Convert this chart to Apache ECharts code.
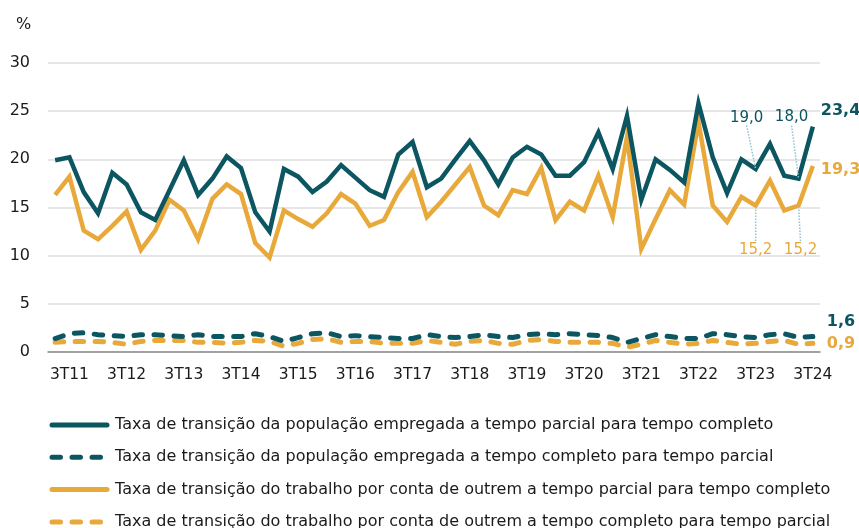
<!DOCTYPE html>
<html>
<head>
<meta charset="utf-8">
<script src="https://cdn.jsdelivr.net/npm/echarts@6/dist/echarts.min.js"></script>
<style>
  html, body { margin: 0; padding: 0; background: #fff; }
  #main { width: 859px; height: 528px; }
</style>
</head>
<body>
<div id="main"></div>
<script>
// quarters 2T11 .. 3T24
var quarters = [
  '2T11', '3T11', '4T11',
  '1T12', '2T12', '3T12', '4T12',
  '1T13', '2T13', '3T13', '4T13',
  '1T14', '2T14', '3T14', '4T14',
  '1T15', '2T15', '3T15', '4T15',
  '1T16', '2T16', '3T16', '4T16',
  '1T17', '2T17', '3T17', '4T17',
  '1T18', '2T18', '3T18', '4T18',
  '1T19', '2T19', '3T19', '4T19',
  '1T20', '2T20', '3T20', '4T20',
  '1T21', '2T21', '3T21', '4T21',
  '1T22', '2T22', '3T22', '4T22',
  '1T23', '2T23', '3T23', '4T23',
  '1T24', '2T24', '3T24'
];

// populacao empregada: parcial -> completo
var empParcialCompleto = [
  19.9, 20.2, 16.6,
  14.4, 18.6, 17.4, 14.5,
  13.7, 16.8, 19.9, 16.3,
  18.0, 20.3, 19.1, 14.5,
  12.5, 19.0, 18.2, 16.6,
  17.7, 19.4, 18.1, 16.8,
  16.1, 20.5, 21.8, 17.1,
  18.0, 20.0, 21.9, 19.9,
  17.4, 20.2, 21.3, 20.5,
  18.3, 18.3, 19.7, 22.8,
  19.0, 24.5, 15.8, 20.0,
  18.9, 17.6, 25.8, 20.2,
  16.5, 20.0, 19.0, 21.6,
  18.3, 18.0, 23.4
];

// populacao empregada: completo -> parcial
var empCompletoParcial = [
  1.4, 1.9, 2.0,
  1.8, 1.7, 1.6, 1.8,
  1.8, 1.7, 1.6, 1.8,
  1.6, 1.6, 1.6, 1.9,
  1.6, 1.1, 1.5, 1.9,
  2.0, 1.6, 1.7, 1.6,
  1.5, 1.4, 1.4, 1.8,
  1.6, 1.5, 1.6, 1.8,
  1.6, 1.5, 1.8, 1.9,
  1.8, 1.9, 1.8, 1.7,
  1.5, 1.0, 1.4, 1.8,
  1.6, 1.4, 1.4, 1.9,
  1.8, 1.6, 1.5, 1.8,
  1.9, 1.5, 1.6
];

// trabalho por conta de outrem: parcial -> completo
var tcoParcialCompleto = [
  16.3, 18.2, 12.6,
  11.7, 13.1, 14.6, 10.6,
  12.6, 15.8, 14.7, 11.7,
  15.9, 17.4, 16.4, 11.3,
  9.8, 14.7, 13.8, 13.0,
  14.4, 16.4, 15.4, 13.1,
  13.7, 16.6, 18.7, 14.0,
  15.6, 17.4, 19.2, 15.2,
  14.2, 16.8, 16.4, 19.1,
  13.7, 15.6, 14.7, 18.3,
  14.0, 22.3, 10.7, 13.8,
  16.8, 15.3, 23.9, 15.2,
  13.5, 16.1, 15.2, 17.8,
  14.7, 15.2, 19.3
];

// trabalho por conta de outrem: completo -> parcial
var tcoCompletoParcial = [
  1.0, 1.1, 1.1,
  1.1, 1.0, 0.8, 1.1,
  1.2, 1.2, 1.2, 1.0,
  1.0, 0.9, 1.0, 1.2,
  1.1, 0.6, 0.9, 1.3,
  1.4, 1.0, 1.1, 1.1,
  0.9, 0.9, 0.9, 1.2,
  1.0, 0.8, 1.1, 1.2,
  0.9, 0.8, 1.2, 1.3,
  1.1, 1.0, 1.0, 1.0,
  0.9, 0.5, 0.8, 1.2,
  1.0, 0.8, 0.9, 1.2,
  1.0, 0.8, 0.9, 1.1,
  1.2, 0.8, 0.9
];

var seriesNames = [
  'Taxa de transição da população empregada a tempo parcial para tempo completo',
  'Taxa de transição da população empregada a tempo completo para tempo parcial',
  'Taxa de transição do trabalho por conta de outrem a tempo parcial para tempo completo',
  'Taxa de transição do trabalho por conta de outrem a tempo completo para tempo parcial'
];

var yTicks = [0, 5, 10, 15, 20, 25, 30];

// annotated points (index -> text)
var tealNotes = { 49: '19,0', 52: '18,0' };
var goldNotes = { 49: '15,2', 52: '15,2' };

var TEAL = '#0b5661';
var GOLD = '#e8a93a';
var FONT = 'DejaVu Sans';

function fmt(v) {
  return v.toFixed(1).replace('.', ',');
}

// turn a value array into data items, flagging the annotated ones
function withNotes(values, notes, color) {
  return values.map(function (v, i) {
    if (!notes[i]) return v;
    return {
      value: v,
      symbol: 'circle',
      symbolSize: 2,
      itemStyle: { color: color },
      label: {
        show: true,
        position: 'inside',
        formatter: notes[i],
        color: color,
        fontFamily: FONT,
        fontSize: 15
      },
      labelLine: {
        show: true,
        lineStyle: { color: '#8cc3d6', width: 1.5, type: 'dotted' }
      }
    };
  });
}

function endLabel(color, dx, dy) {
  return {
    show: true,
    formatter: function (p) { return fmt(p.value); },
    color: color,
    fontFamily: FONT,
    fontWeight: 'bold',
    fontSize: 16,
    offset: [dx, dy]
  };
}

var dash = [8.5, 11.5];

var option = {
  animation: false,
  textStyle: { fontFamily: FONT },
  title: {
    text: '%',
    left: 11,
    top: 12,
    textStyle: { fontFamily: FONT, fontSize: 16, fontWeight: 'normal', color: '#1a1a1a' }
  },
  grid: { left: 48, right: 39, top: 63, bottom: 176, containLabel: false },
  legend: {
    orient: 'vertical',
    left: 49.5,
    top: 417,
    height: 140,
    padding: 0,
    itemWidth: 55,
    itemHeight: 14,
    itemGap: 16.3,
    itemStyle: { opacity: 0 },
    lineStyle: { width: 5, cap: 'round' },
    textStyle: { fontFamily: FONT, fontSize: 16, lineHeight: 16, color: '#1a1a1a', padding: [0, 0, 0, 3] },
    data: seriesNames
  },
  xAxis: {
    type: 'category',
    data: quarters,
    boundaryGap: true,
    axisLine: { lineStyle: { color: '#8a8a8a', width: 1.5 } },
    axisTick: { interval: 0, length: 5, lineStyle: { color: '#8a8a8a' } },
    axisLabel: {
      interval: function (idx) { return idx % 4 === 1; },
      margin: 15,
      fontFamily: FONT,
      fontSize: 15.5,
      color: '#1a1a1a'
    },
    splitLine: { show: false }
  },
  yAxis: {
    type: 'value',
    min: yTicks[0],
    max: yTicks[yTicks.length - 1],
    interval: 5,
    axisLine: { show: false },
    axisTick: { show: false },
    axisLabel: { margin: 18, fontFamily: FONT, fontSize: 16, color: '#1a1a1a' },
    splitLine: { lineStyle: { color: '#dedede', width: 1.5 } }
  },
  series: [
    {
      name: seriesNames[0],
      type: 'line',
      data: withNotes(empParcialCompleto, tealNotes, TEAL),
      symbol: 'none',
      showAllSymbol: true,
      color: TEAL,
      lineStyle: { color: TEAL, width: 4.5, join: 'miter' },
      labelLayout: function (p) {
        if (p.dataIndex === 49) return { dx: -9, dy: -51 };
        if (p.dataIndex === 52) return { dx: -7, dy: -61 };
        return {};
      },
      endLabel: endLabel(TEAL, 0, -16),
      z: 4
    },
    {
      name: seriesNames[1],
      type: 'line',
      data: empCompletoParcial,
      symbol: 'none',
      color: TEAL,
      lineStyle: { color: TEAL, width: 5, type: dash, cap: 'round' },
      endLabel: endLabel(TEAL, 6, -15),
      z: 3
    },
    {
      name: seriesNames[2],
      type: 'line',
      data: withNotes(tcoParcialCompleto, goldNotes, GOLD),
      symbol: 'none',
      showAllSymbol: true,
      color: GOLD,
      lineStyle: { color: GOLD, width: 4.5, join: 'miter' },
      labelLayout: function (p) {
        if (p.dataIndex === 49) return { dx: 0, dy: 45 };
        if (p.dataIndex === 52) return { dx: 2, dy: 45 };
        return {};
      },
      endLabel: endLabel(GOLD, 0, 4),
      z: 2
    },
    {
      name: seriesNames[3],
      type: 'line',
      data: tcoCompletoParcial,
      symbol: 'none',
      color: GOLD,
      lineStyle: { color: GOLD, width: 5, type: dash, cap: 'round' },
      endLabel: endLabel(GOLD, 6, 1),
      z: 1
    }
  ]
};

var chart = echarts.init(document.getElementById('main'));
chart.setOption(option);
</script>
</body>
</html>
